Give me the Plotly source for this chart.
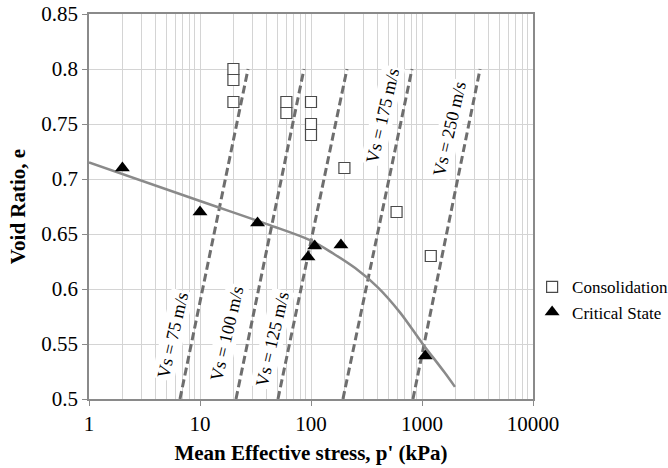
import numpy as np
import plotly.graph_objects as go

# Consolidation points
cons_p = [20, 20, 20, 60, 60, 100, 100, 100, 200, 590, 1200]
cons_e = [0.80, 0.79, 0.77, 0.77, 0.76, 0.77, 0.75, 0.74, 0.71, 0.67, 0.63]

# Critical state points
cs_p = [2, 10, 33, 94, 108, 186, 1070]
cs_e = [0.71, 0.67, 0.66, 0.629, 0.639, 0.64, 0.539]

# Critical state line
csl_p = [1, 10, 40, 100, 160, 250, 400, 630, 1000, 1600, 1980]
csl_e = [0.715, 0.68, 0.659, 0.644, 0.632, 0.619, 0.6015, 0.579, 0.551, 0.524, 0.511]

# Constant-Vs lines
vs_labels = ["Vs = 75 m/s", "Vs = 100 m/s", "Vs = 125 m/s", "Vs = 175 m/s", "Vs = 250 m/s"]
vs_p_bottom = [6.6, 21.1, 50.4, 194, 829]
vs_p_top = [27.1, 86.5, 211, 813, 3337]
vs_e_bottom = 0.5
vs_e_top = 0.8
vs_label_p = [5.7, 17.5, 44.5, 445, 1786]
vs_label_e = [0.558, 0.56, 0.555, 0.758, 0.746]

x_tickvals = [1, 10, 100, 1000, 10000]
x_ticktext = ["1", "10", "100", "1000", "10000"]
x_minor_vals = [m * 10 ** d for d in range(4) for m in range(2, 10)]

FONT = "Liberation Serif"

fig = go.Figure()

for pb, pt in zip(vs_p_bottom, vs_p_top):
    fig.add_trace(go.Scatter(
        x=[pb, pt], y=[vs_e_bottom, vs_e_top], mode="lines",
        line=dict(color="#6e6e6e", width=3, dash="8px,4px"),
        showlegend=False, hoverinfo="skip"))

fig.add_trace(go.Scatter(
    x=csl_p, y=csl_e, mode="lines",
    line=dict(color="#8a8a8a", width=2.5, shape="spline", smoothing=1),
    showlegend=False, hoverinfo="skip"))

fig.add_trace(go.Scatter(
    x=cons_p, y=cons_e, mode="markers", name="Consolidation",
    marker=dict(symbol="square", size=11, color="white",
                line=dict(color="#4a4a4a", width=1.2))))

fig.add_trace(go.Scatter(
    x=cs_p, y=cs_e, mode="markers", name="Critical State",
    marker=dict(symbol="triangle-up", size=13, color="black",
                line=dict(color="black", width=0))))

for lab, lp, le in zip(vs_labels, vs_label_p, vs_label_e):
    fig.add_annotation(
        x=np.log10(lp), y=le, xref="x", yref="y", text=lab, showarrow=False,
        textangle=-77, bgcolor="white",
        font=dict(family=FONT, size=18, color="black"))

grid = "#d4d4d4"
axis_line = "#8a8a8a"

fig.update_xaxes(
    type="log", range=[0, 4], tickmode="array",
    tickvals=x_tickvals, ticktext=x_ticktext,
    showgrid=True, gridcolor=grid, gridwidth=1,
    minor=dict(showgrid=True, gridcolor=grid, gridwidth=1, ticks="",
               tickmode="array", tickvals=x_minor_vals),
    showline=True, linecolor=axis_line, linewidth=1.5, mirror=True,
    ticks="outside", ticklen=5, tickcolor=axis_line,
    tickfont=dict(family=FONT, size=21, color="black"),
    ticklabeloverflow="allow",
    title=dict(text="<b>Mean Effective stress, p' (kPa)</b>",
               font=dict(family=FONT, size=21, color="black"), standoff=10),
    zeroline=False, automargin=False)

fig.update_yaxes(
    range=[0.5, 0.85], dtick=0.05, tick0=0.5,
    showgrid=True, gridcolor=grid, gridwidth=1,
    showline=True, linecolor=axis_line, linewidth=1.5, mirror=True,
    ticks="outside", ticklen=5, tickcolor=axis_line,
    tickfont=dict(family=FONT, size=21, color="black"),
    ticklabeloverflow="allow",
    title=dict(text="<b>Void Ratio, e</b>",
               font=dict(family=FONT, size=21, color="black"), standoff=10),
    zeroline=False, automargin=False)

fig.update_layout(
    width=668, height=468,
    margin=dict(l=89, r=135, t=14, b=69, autoexpand=False),
    plot_bgcolor="white", paper_bgcolor="white",
    legend=dict(x=0.998, y=0.337, xanchor="left", yanchor="top",
                font=dict(family=FONT, size=17, color="black"),
                bgcolor="rgba(0,0,0,0)", itemwidth=30, tracegroupgap=0),
    font=dict(family=FONT))

fig.write_html("out.html",
               config={"displayModeBar": False},
               post_script="document.body.style.margin='0px';document.body.style.overflow='hidden';")
